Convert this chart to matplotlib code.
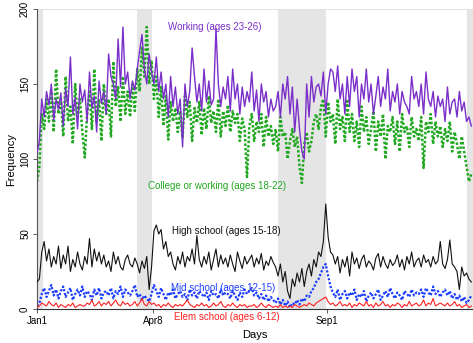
import numpy as np
import matplotlib
matplotlib.use("Agg")
import matplotlib.pyplot as plt

plt.rcParams['font.family'] = ['Liberation Sans', 'DejaVu Sans']

# sampled every 2 days, Jan 1 .. Dec 31
working = [
    104, 112, 140, 128, 145, 136, 150, 126, 140, 133,
    144, 122, 147, 135, 168, 130, 141, 120, 150, 138,
    146, 125, 158, 134, 142, 118, 152, 137, 145, 130,
    170, 155, 150, 140, 180, 148, 188, 150, 158, 140,
    152, 146, 160, 172, 183, 160, 150, 170, 158, 150,
    168, 145, 158, 140, 150, 128, 155, 135, 148, 130,
    140, 108, 150, 135, 145, 174, 155, 138, 150, 132,
    160, 138, 152, 136, 140, 187, 150, 135, 148, 140,
    155, 132, 160, 140, 150, 130, 148, 135, 145, 138,
    158, 132, 146, 125, 150, 138, 145, 128, 140, 132,
    135, 145, 128, 150, 140, 155, 130, 148, 118, 140,
    120, 105, 100, 150, 128, 155, 138, 148, 150, 142,
    158, 130, 150, 160, 158, 145, 162, 140, 150, 130,
    155, 135, 160, 145, 155, 128, 150, 140, 160, 138,
    150, 130, 142, 155, 135, 148, 140, 160, 132, 145,
    138, 150, 130, 145, 138, 135, 130, 155, 140, 145,
    135, 150, 130, 158, 140, 135, 145, 128, 142, 135,
    140, 125, 148, 130, 138, 140, 128, 145, 132, 138,
    125, 128, 122]

college = [
    85, 95, 130, 120, 140, 125, 145, 118, 160, 130,
    140, 115, 155, 125, 135, 110, 150, 128, 140, 118,
    101, 130, 145, 120, 160, 125, 140, 112, 150, 130,
    140, 115, 165, 135, 148, 125, 155, 130, 145, 128,
    150, 132, 160, 145, 175, 155, 188, 150, 165, 140,
    155, 128, 148, 122, 142, 113, 138, 125, 134, 118,
    132, 114, 142, 128, 138, 112, 134, 124, 138, 116,
    134, 120, 142, 124, 132, 118, 140, 115, 132, 122,
    136, 118, 132, 124, 130, 112, 127, 120, 88, 122,
    130, 112, 125, 118, 130, 108, 128, 115, 122, 110,
    120, 105, 128, 115, 118, 100, 112, 120, 108, 115,
    95, 84, 110, 118, 105, 112, 125, 130, 120, 135,
    140, 115, 138, 125, 130, 110, 140, 120, 128, 112,
    140, 118, 130, 112, 125, 108, 135, 118, 128, 110,
    120, 132, 105, 125, 115, 130, 100, 122, 118, 128,
    110, 125, 105, 130, 118, 122, 108, 128, 115, 120,
    112, 128, 94, 125, 118, 130, 110, 125, 115, 122,
    108, 120, 112, 125, 105, 118, 110, 100, 115, 105,
    95, 85, 90]

high_school = [
    18, 20, 38, 45, 32, 40, 28, 35, 30, 42,
    27, 36, 30, 42, 25, 33, 28, 38, 30, 26,
    35, 30, 47, 28, 40, 32, 38, 30, 36, 28,
    32, 25, 38, 30, 35, 28, 26, 33, 36, 30,
    28, 34, 30, 24, 32, 27, 35, 13, 28, 52,
    56, 50, 53, 40, 45, 35, 38, 30, 26, 35,
    30, 38, 28, 35, 32, 40, 30, 49, 33, 28,
    35, 30, 38, 26, 33, 40, 28, 36, 30, 34,
    28, 36, 30, 25, 38, 32, 27, 35, 30, 33,
    36, 28, 34, 30, 37, 26, 32, 29, 35, 31,
    28, 22, 30, 18, 25, 12, 7, 20, 15, 24,
    18, 27, 15, 25, 30, 22, 33, 28, 38, 35,
    45, 70, 48, 38, 36, 30, 35, 24, 33, 28,
    35, 22, 38, 30, 34, 27, 33, 36, 28, 32,
    30, 26, 34, 37, 28, 35, 30, 27, 33, 29,
    31, 36, 28, 33, 26, 35, 30, 38, 28, 32,
    34, 28, 36, 31, 33, 28, 35, 30, 32, 45,
    30, 27, 33, 46, 30, 28, 25, 13, 28, 22,
    24, 20, 18]

mid_school = [
    2, 4, 10, 14, 8, 12, 16, 9, 13, 7,
    12, 15, 8, 11, 14, 6, 10, 13, 9, 15,
    8, 12, 10, 6, 13, 9, 14, 7, 11, 12,
    9, 14, 7, 12, 10, 15, 8, 13, 11, 9,
    12, 16, 8, 10, 6, 9, 7, 5, 10, 16,
    12, 8, 14, 10, 6, 11, 9, 13, 7, 10,
    12, 8, 10, 6, 13, 9, 11, 7, 12, 10,
    8, 11, 6, 12, 9, 10, 7, 13, 9, 11,
    10, 7, 12, 9, 6, 11, 8, 13, 10, 12,
    14, 9, 11, 7, 10, 6, 9, 5, 8, 6,
    4, 7, 3, 6, 2, 5, 1, 4, 3, 6,
    3, 7, 5, 9, 8, 12, 14, 18, 20, 24,
    28, 30, 22, 15, 11, 8, 13, 6, 10, 12,
    7, 11, 9, 13, 6, 10, 8, 12, 5, 9,
    11, 7, 10, 13, 6, 9, 12, 8, 14, 10,
    7, 11, 9, 6, 12, 10, 8, 13, 9, 11,
    10, 13, 8, 14, 11, 9, 15, 10, 12, 8,
    11, 13, 9, 12, 7, 10, 6, 9, 5, 8,
    4, 6, 9]

elem_school = [
    1, 2, 4, 3, 2, 5, 3, 2, 4, 1,
    3, 2, 1, 3, 2, 4, 1, 2, 3, 2,
    2, 4, 3, 6, 2, 3, 5, 2, 4, 3,
    5, 2, 4, 6, 3, 2, 5, 3, 4, 2,
    3, 5, 2, 4, 7, 3, 2, 5, 3, 4,
    2, 3, 1, 3, 2, 4, 2, 1, 3, 2,
    3, 2, 4, 6, 3, 2, 1, 3, 2, 4,
    2, 3, 1, 2, 4, 2, 3, 5, 2, 1,
    3, 2, 4, 2, 1, 3, 2, 3, 1, 2,
    2, 3, 1, 2, 4, 2, 1, 3, 2, 1,
    2, 1, 3, 1, 2, 1, 2, 1, 3, 2,
    1, 2, 3, 2, 4, 3, 2, 4, 5, 6,
    7, 8, 5, 3, 4, 2, 3, 5, 2, 3,
    2, 4, 1, 3, 2, 4, 3, 2, 5, 2,
    3, 1, 4, 2, 3, 5, 2, 3, 1, 3,
    2, 4, 3, 1, 3, 2, 5, 2, 3, 4,
    2, 3, 6, 2, 4, 3, 7, 2, 3, 4,
    3, 2, 4, 2, 3, 5, 2, 3, 1, 2,
    3, 1, 2]

days = np.arange(len(working)) * 2

vacations = [(0, 5), (84, 96), (202, 242), (360, 366)]
tick_days = [0, 97, 243]
tick_labels = ["Jan1", "Apr8", "Sep1"]

fig = plt.figure(figsize=(4.73, 3.43), dpi=100)
ax = fig.add_axes([37/473, 34/343, 435.5/473, 300/343])

for a, b in vacations:
    ax.axvspan(a, b, color='#e5e5e5', lw=0, zorder=0)
ax.axhline(200, color='#e2e2e2', lw=0.8, zorder=0.5)
ax.axvline(360, color='#e2e2e2', lw=0.8, zorder=0.5)

ax.plot(days, working, color='#7b2fc9', lw=1.0, zorder=3)
ax.plot(days, college, color='#22a822', lw=1.8, ls=(0, (1, 0.8)), zorder=2)
ax.plot(days, high_school, color='#111111', lw=0.8, zorder=3)
ax.plot(days, mid_school, color='#1f3fff', lw=1.6, ls=(0, (1, 0.8)), zorder=2)
ax.plot(days, elem_school, color='#ff2020', lw=0.8, zorder=3)

fs = 7
ax.text(149, 188, "Working (ages 23-26)", color='#7b2fc9', ha='center', va='center', fontsize=fs)
ax.text(151, 82, "College or working (ages 18-22)", color='#22a822', ha='center', va='center', fontsize=fs)
ax.text(159, 52, "High school (ages 15-18)", color='#111111', ha='center', va='center', fontsize=fs)
ax.text(156, 14, "Mid school (ages 12-15)", color='#1f3fff', ha='center', va='center', fontsize=fs)
ax.text(159, -5.5, "Elem school (ages 6-12)", color='#ff2020', ha='center', va='center', fontsize=fs, clip_on=False)

ax.set_xlim(0, 365)
ax.set_ylim(0, 200)
ax.set_xticks(tick_days)
ax.set_xticklabels(tick_labels, fontsize=fs)
ax.set_yticks([0, 50, 100, 150, 200])
ax.set_yticklabels(['0', '50', '100', '150', '200'], fontsize=fs, rotation=90, va='center')
ax.tick_params(axis='both', length=3, width=0.6, colors='#444444', labelcolor='black', pad=2)
ax.set_xlabel("Days", fontsize=8, labelpad=3)
ax.set_ylabel("Frequency", fontsize=8, labelpad=3)

for s in ['top', 'right']:
    ax.spines[s].set_visible(False)
ax.spines['left'].set_color('#555555')
ax.spines['left'].set_linewidth(0.8)
ax.spines['bottom'].set_color('#333333')
ax.spines['bottom'].set_linewidth(0.8)
ax.set_facecolor('white')

fig.savefig("out.png", dpi=100)
